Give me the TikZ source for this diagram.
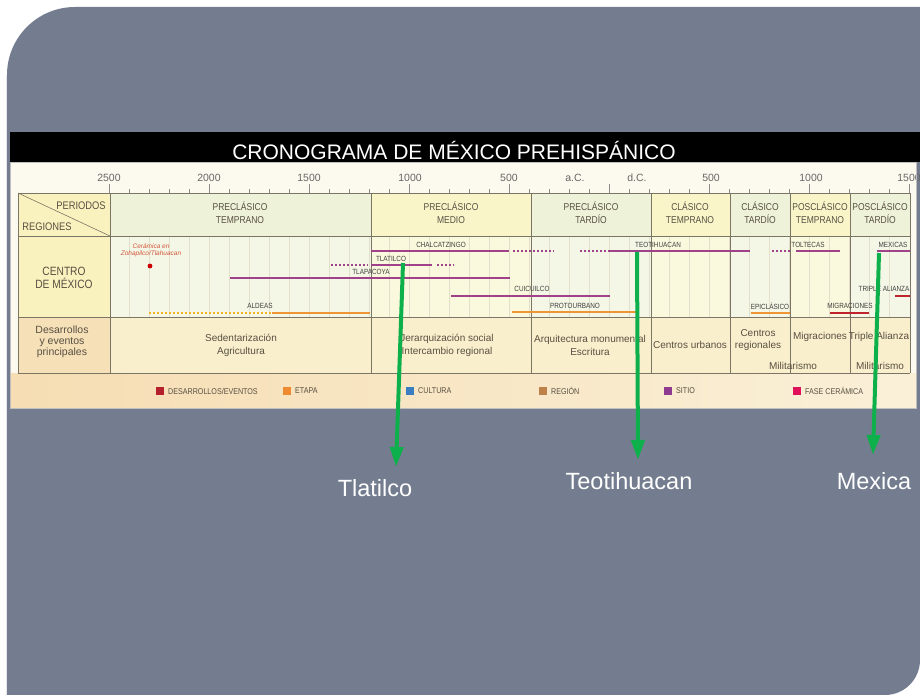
\documentclass[tikz,border=0pt]{standalone}
\usepackage{fontspec}
\setmainfont{Liberation Sans}
\newfontfamily\cf[FakeStretch=0.85]{Liberation Sans}
\usetikzlibrary{arrows.meta}
\definecolor{slate}{RGB}{116,125,143}
\definecolor{cream}{RGB}{252,250,238}
\definecolor{hg}{RGB}{237,242,216}
\definecolor{hy}{RGB}{249,245,201}
\definecolor{rg}{RGB}{245,247,230}
\definecolor{ry}{RGB}{251,249,221}
\definecolor{dev}{RGB}{250,239,204}
\definecolor{labY}{RGB}{250,242,190}
\definecolor{labP}{RGB}{246,224,184}
\definecolor{legL}{RGB}{246,221,179}
\definecolor{legR}{RGB}{250,240,216}
\definecolor{gridc}{RGB}{226,223,203}
\definecolor{bord}{RGB}{122,117,101}
\definecolor{txt}{RGB}{88,80,66}
\definecolor{sitec}{RGB}{160,66,138}
\definecolor{etapac}{RGB}{238,150,52}
\definecolor{devc}{RGB}{192,36,44}
\definecolor{cerc}{RGB}{210,85,58}
\definecolor{gr}{RGB}{13,176,75}
\definecolor{lgred}{RGB}{179,32,42}
\definecolor{lgorange}{RGB}{240,138,48}
\definecolor{lgblue}{RGB}{58,125,192}
\definecolor{lgbrown}{RGB}{192,128,74}
\definecolor{lgpurple}{RGB}{142,58,142}
\definecolor{lgpink}{RGB}{224,16,90}
\begin{document}
\begin{tikzpicture}[x=1pt,y=-1pt,
  t/.style={inner sep=0pt,text=txt},
  per/.style={t,font=\cf\fontsize{10}{13}\selectfont,align=center},
  yr/.style={inner sep=0pt,text=black!60,font=\fontsize{10.5}{12}\selectfont,anchor=base},
  bl/.style={inner sep=0pt,text=black!75,font=\cf\fontsize{7.5}{8}\selectfont},
  ev/.style={t,font=\fontsize{10}{13}\selectfont,align=center},
  lg/.style={inner sep=0pt,text=txt,font=\cf\fontsize{8.4}{9}\selectfont,anchor=west},
  sitebar/.style={draw=sitec,line width=2.6pt},
  sitedots/.style={draw=sitec,line width=2pt,dash pattern=on 2pt off 2pt},
  etapabar/.style={draw=etapac,line width=2.6pt},
  etapadots/.style={draw=etapac!70!yellow,line width=2pt,dash pattern=on 2pt off 2pt},
  devbar/.style={draw=devc,line width=2.6pt},
  rule/.style={draw=bord,line width=0.6pt},
  garrow/.style={draw=gr,line width=4pt,-{Triangle[length=20pt,width=13pt]}},
  big/.style={inner sep=0pt,text=white,font=\fontsize{23.5}{28}\selectfont,anchor=base},
]
\useasboundingbox (0,0) rectangle (920,695);
\fill[white] (0,0) rectangle (920,695);
% slide panel
\fill[slate] (7,695) -- (7,75) arc[start angle=180,end angle=270,radius=68] -- (920,7)
  -- (920,660) arc[start angle=0,end angle=90,radius=35] -- cycle;
\draw[white!80!slate,line width=0.8pt] (6.5,695) -- (6.5,75);
% chart
\fill[cream] (10,162) rectangle (916,408);
\fill[black] (10,132) rectangle (920,162);
\node[inner sep=0pt,text=white,font=\fontsize{21}{24}\selectfont,anchor=base] (title) at (454,159.5) {CRONOGRAMA DE MÉXICO PREHISPÁNICO};
% label column
\fill[labY] (18,193) rectangle (110,317);
\fill[labP] (18,317) rectangle (110,373);
% period fills
\foreach \a/\b/\c/\d in {110/371/hg/rg, 371/531/hy/ry, 531/651/hg/rg, 651/730/hy/ry, 730/790/hg/rg, 790/850/hy/ry, 850/910/hg/rg}{
  \fill[\c] (\a,193) rectangle (\b,236);
  \fill[\d] (\a,236) rectangle (\b,317);
}
\fill[dev] (110,317) rectangle (910,373);
\shade[left color=legL,right color=legR] (10,373) rectangle (916,408);
% grid in row 2
\foreach \k in {1,...,39}{\draw[gridc,line width=0.5pt] (109+20*\k,236) -- (109+20*\k,317);}
% ticks
\foreach \k in {0,...,40}{\draw[black!45,line width=0.5pt] (109+20*\k,189) -- (109+20*\k,193);}
\foreach \k in {0,5,...,40}{\draw[black!45,line width=0.6pt] (109+20*\k,184) -- (109+20*\k,193);}
% years
\node[yr] (y1) at (109,182) {2500};
\node[yr] (y2) at (209,182) {2000};
\node[yr] (y3) at (309,182) {1500};
\node[yr] (y4) at (410,182) {1000};
\node[yr] (y5) at (509,182) {500};
\node[yr] (y6) at (575,182) {a.C.};
\node[yr] (y7) at (637,182) {d.C.};
\node[yr] (y8) at (711,182) {500};
\node[yr] (y9) at (811,182) {1000};
\node[yr] (y10) at (909,182) {1500};
% table rules
\foreach \yy in {193,236,317,373}{\draw[rule] (18,\yy) -- (910,\yy);}
\foreach \xx in {18,110,371,531,651,730,790,850,910}{\draw[rule] (\xx,193) -- (\xx,373);}
\draw[rule] (18,193) -- (110,236);
\draw[black!25,line width=0.5pt] (10,162) rectangle (916,408);
% header labels
\node[t,font=\cf\fontsize{11}{12}\selectfont] (hp) at (81,206) {PERIODOS};
\node[t,font=\cf\fontsize{11}{12}\selectfont] (hr) at (47,227) {REGIONES};
\node[per] (p1) at (240,213) {PRECLÁSICO\\TEMPRANO};
\node[per] (p2) at (451,213) {PRECLÁSICO\\MEDIO};
\node[per] (p3) at (591,213) {PRECLÁSICO\\TARDÍO};
\node[per] (p4) at (690,213) {CLÁSICO\\TEMPRANO};
\node[per] (p5) at (760,213) {CLÁSICO\\TARDÍO};
\node[per] (p6) at (820,213) {POSCLÁSICO\\TEMPRANO};
\node[per] (p7) at (880,213) {POSCLÁSICO\\TARDÍO};
\node[t,font=\cf\fontsize{12}{13}\selectfont,align=center] (cm) at (64,278) {CENTRO\\DE MÉXICO};
\node[t,font=\fontsize{10.5}{11}\selectfont,align=center] (dv) at (62,342) {Desarrollos\\y eventos\\principales};
% ceramica
\node[inner sep=0pt,text=cerc,font=\itshape\fontsize{6.5}{7.5}\selectfont,align=center] (cer) at (151,250.5) {Cerámica en\\Zohapilco/Tlahuacan};
\fill[red!80!black] (150,266) circle[radius=2.4];
% bars
\draw[sitebar] (371,251) -- (509,251);
\draw[sitedots] (513,251) -- (554,251);
\node[bl] (chal) at (441,245) {CHALCATZINGO};
\draw[sitedots] (580,251) -- (606,251);
\draw[sitebar] (608,251) -- (750,251);
\node[bl] (teo) at (658,245) {TEOTIHUACAN};
\draw[sitedots] (772,251) -- (792,251);
\draw[sitebar] (796,251) -- (840,251);
\node[bl] (tol) at (808,245) {TOLTECAS};
\draw[sitebar] (877,251) -- (910,251);
\node[bl] (mex) at (893,245) {MEXICAS};
\draw[sitedots] (331,265) -- (368,265);
\draw[sitebar] (371,265) -- (432,265);
\draw[sitedots] (437,265) -- (454,265);
\node[bl] (tla) at (391,259) {TLATILCO};
\draw[sitebar] (230,278) -- (510,278);
\node[bl] (tlp) at (371,271.5) {TLAPACOYA};
\draw[sitebar] (451,296) -- (610,296);
\node[bl] (cui) at (532,289) {CUICUILCO};
\draw[etapabar] (512,312) -- (638,312);
\node[bl] (pro) at (575,306) {PROTOURBANO};
\draw[etapadots] (149,313) -- (271,313);
\draw[etapabar] (272,313) -- (370,313);
\node[bl] (ald) at (260,306) {ALDEAS};
\draw[etapabar] (751,313) -- (790,313);
\node[bl] (epi) at (770,306) {EPICLÁSICO};
\draw[devbar] (830,313) -- (869,313);
\node[bl] (mig) at (850,306) {MIGRACIONES};
\draw[devbar] (895,296) -- (910,296);
\node[bl] (tri) at (884,289) {TRIPLE ALIANZA};
% row 3 texts
\node[ev] (e1) at (241,345) {Sedentarización\\Agricultura};
\node[ev] (e2) at (447,345) {Jerarquización social\\Intercambio regional};
\node[ev] (e3) at (590,345) {Arquitectura monumental\\Escritura};
\node[ev] (e4) at (690,345) {Centros urbanos};
\node[ev,font=\fontsize{10}{12.5}\selectfont] (e5) at (758,340) {Centros\\regionales};
\node[ev] (e6) at (820,337) {Migraciones};
\node[ev] (e7) at (879,337) {Triple Alianza};
\node[ev] (e8) at (793,366) {Militarismo};
\node[ev] (e9) at (880,366) {Militarismo};
% legend
\foreach \xx/\cc/\tt/\nm in {156/lgred/DESARROLLOS\slash EVENTOS/l1, 283/lgorange/ETAPA/l2, 406/lgblue/CULTURA/l3, 539/lgbrown/REGIÓN/l4, 664/lgpurple/SITIO/l5, 793/lgpink/FASE CERÁMICA/l6}{
  \fill[\cc] (\xx,387) rectangle (\xx+7.5,395);
  \node[lg] (\nm) at (\xx+12,391) {\tt};
}
% green arrows
\coordinate (a1s) at (403,263);
\coordinate (a1e) at (396,467);
\coordinate (a2s) at (637,252);
\coordinate (a2e) at (638,460);
\coordinate (a3s) at (879,253);
\coordinate (a3e) at (873,455);
\draw[garrow] (a1s) -- (a1e);
\draw[garrow] (a2s) -- (a2e);
\draw[garrow] (a3s) -- (a3e);
\node[big] (L1) at (375,496) {Tlatilco};
\node[big] (L2) at (629,489) {Teotihuacan};
\node[big] (L3) at (874,489) {Mexica};
\end{tikzpicture}
\end{document}
